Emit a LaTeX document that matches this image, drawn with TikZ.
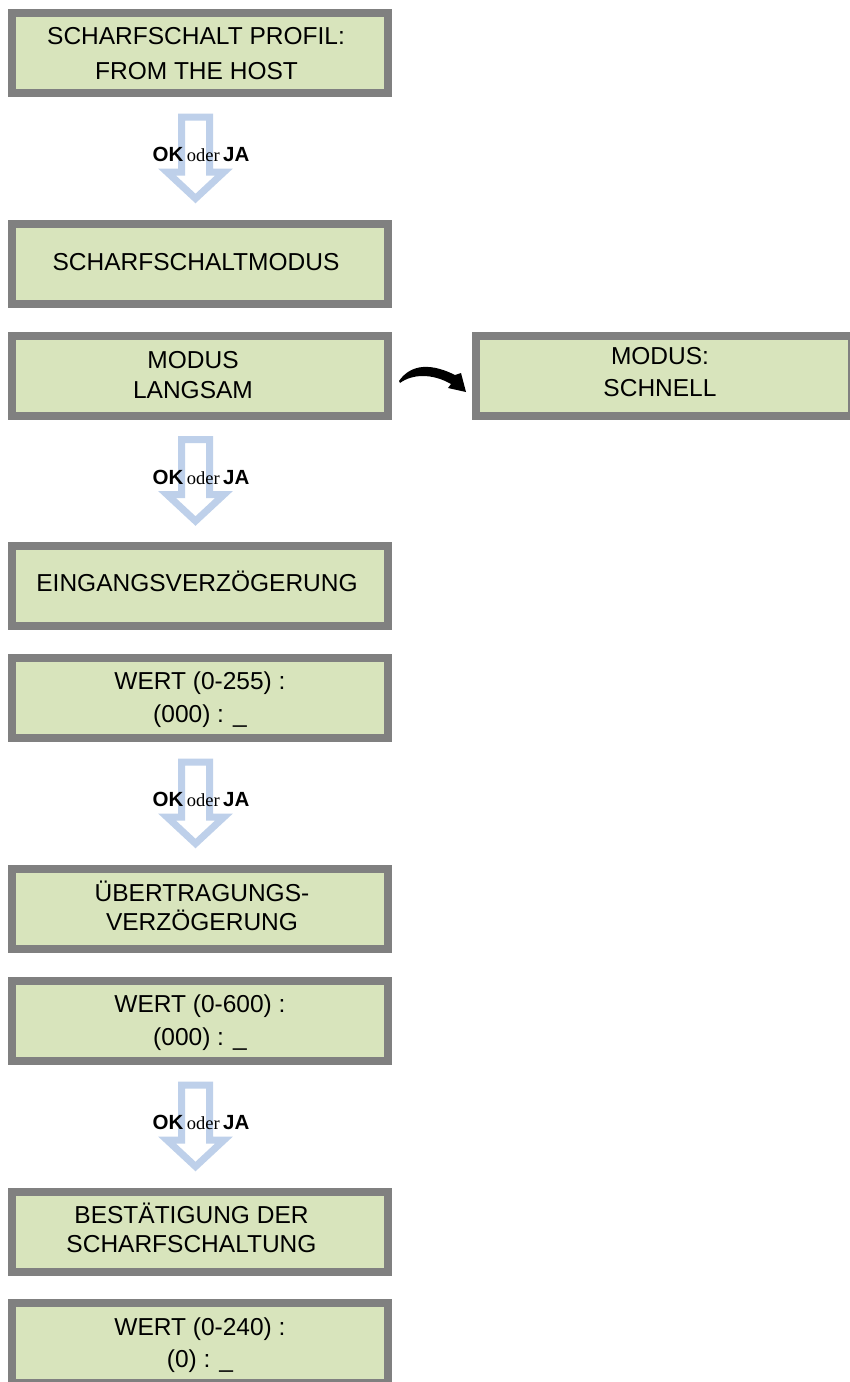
\documentclass[tikz,border=0pt]{standalone}
\usepackage{fontspec}
\setmainfont{Liberation Sans}
\newfontfamily\serifo{Liberation Serif}
\usetikzlibrary{calc}
\definecolor{lcdfill}{RGB}{216,228,188}
\definecolor{lcdgray}{RGB}{128,128,128}
\definecolor{arrblue}{RGB}{190,208,234}
\newcommand\lcdline[3]{\raisebox{#2}[17.5pt][0pt]{\kern#1\relax#3\kern-#1\relax}}
\newcommand\okjatext{{\bfseries\fontsize{20.5}{20}\selectfont OK}\kern3.5pt{\serifo\fontsize{18.5}{18.5}\selectfont oder}\kern3.5pt{\bfseries\fontsize{20.5}{20}\selectfont JA}}
\tikzset{
  lcd/.style={draw=lcdgray, fill=lcdfill, line width=8pt, minimum width=376pt,
    minimum height=80pt, inner sep=0pt, align=center},
  fs/.style={font=\fontsize{24.5}{#1}\selectfont},
  okja/.style={inner sep=0pt},
  blockarr/.style={draw=arrblue, line width=7pt, fill=white, line join=miter},
  curvarr/.style={fill=black}
}
\newcommand\blockarrow[1]{%
  \draw[blockarr] ($(#1)+(-14,-41.5)$) -- ++(28,0) -- ++(0,55) -- ++(14.5,0)
    -- ($(#1)+(0,40)$) -- ++(-28.5,-26.5) -- ++(14.5,0) -- cycle;}
\begin{document}
\begin{tikzpicture}[x=1pt,y=-1pt]
\fill[white] (0,0) rectangle (850,1382);
\useasboundingbox (0,0) rectangle (850,1382);

\node[lcd,fs=35] (b1) at (200,53) {\lcdline{-4pt}{0pt}{SCHARFSCHALT PROFIL:}\\\lcdline{-3.5pt}{0pt}{FROM THE HOST}};
\node[lcd,fs=30] (b2) at (200,264) {\lcdline{-4pt}{2pt}{SCHARFSCHALTMODUS}};
\node[lcd,fs=30] (b3) at (200,376) {\lcdline{-7pt}{1pt}{MODUS}\\\lcdline{-7pt}{1pt}{LANGSAM}};
\node[lcd,fs=32] (b3r) at (664,376) {\lcdline{-4pt}{4pt}{MODUS:}\\\lcdline{-4pt}{4pt}{SCHNELL}};
\node[lcd,fs=30] (b4) at (200,586) {\lcdline{-3pt}{3.5pt}{EINGANGSVERZÖGERUNG}};
\node[lcd,fs=33] (b5) at (200,698) {\lcdline{0pt}{0.5pt}{WERT (0-255) :}\\\lcdline{0pt}{0.5pt}{(000) : \_}};
\node[lcd,fs=29] (b6) at (200,909) {\lcdline{2pt}{2pt}{ÜBERTRAGUNGS-}\\\lcdline{2pt}{2pt}{VERZÖGERUNG}};
\node[lcd,fs=33.5] (b7) at (200,1021) {\lcdline{0pt}{1pt}{WERT (0-600) :}\\\lcdline{0pt}{1pt}{(000) : \_}};
\node[lcd,fs=29] (b8) at (200,1232) {\lcdline{-8.5pt}{2.5pt}{BESTÄTIGUNG DER}\\\lcdline{-8.5pt}{2.5pt}{SCHARFSCHALTUNG}};
\node[lcd,fs=32] (b9) at (200,1343) {\lcdline{0pt}{0pt}{WERT (0-240) :}\\\lcdline{0pt}{0pt}{(0) : \_}};

\coordinate (m1) at ($(b1.south)!0.5!(b2.north)+(-4.5,0)$);
\coordinate (m2) at ($(b3.south)!0.5!(b4.north)+(-4.5,0)$);
\coordinate (m3) at ($(b5.south)!0.5!(b6.north)+(-4.5,0)$);
\coordinate (m4) at ($(b7.south)!0.5!(b8.north)+(-4.5,0)$);
\blockarrow{m1}
\blockarrow{m2}
\blockarrow{m3}
\blockarrow{m4}
\node[okja] (l1) at ($(m1)+(5.5,-4)$) {\okjatext};
\node[okja] (l2) at ($(m2)+(5.5,-4)$) {\okjatext};
\node[okja] (l3) at ($(m3)+(5.5,-4)$) {\okjatext};
\node[okja] (l4) at ($(m4)+(5.5,-4)$) {\okjatext};

\begin{scope}[shift={(b3.east)}]
\fill[curvarr] (7,5) .. controls (16,-8) and (33,-16) .. (63,-1) -- (69,-3) -- (74,16)
  -- (56,12) -- (59,8) .. controls (40,-3) and (20,-2) .. (8,7) -- cycle;
\end{scope}
\end{tikzpicture}
\end{document}
